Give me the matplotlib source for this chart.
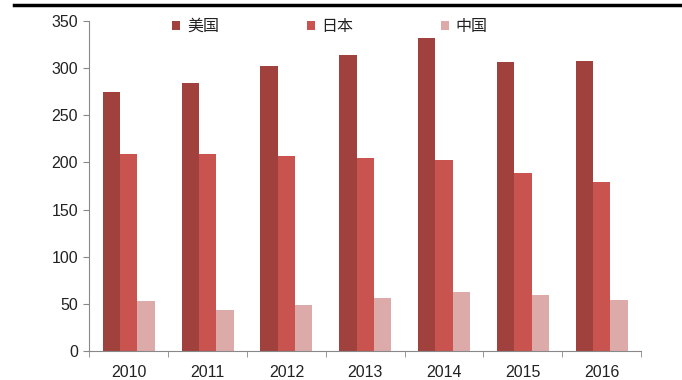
import matplotlib.pyplot as plt
import numpy as np
from matplotlib.lines import Line2D

plt.rcParams['font.family'] = ['Liberation Sans', 'Noto Sans CJK SC']
plt.rcParams['text.color'] = '#222222'
plt.rcParams['xtick.labelcolor'] = '#222222'
plt.rcParams['ytick.labelcolor'] = '#222222'

years = ['2010', '2011', '2012', '2013', '2014', '2015', '2016']
usa = [275, 284, 302, 314, 332, 306, 307]
japan = [209, 209, 207, 205, 203, 189, 179]
china = [53, 44, 49, 56, 63, 60, 54]
series_names = ['美国', '日本', '中国']
colors = ['#a0413d', '#c8534f', '#dcaaa9']

fig = plt.figure(figsize=(6.82, 3.80), dpi=100)
ax = fig.add_axes([0.131, 0.076, 0.809, 0.869])

x = np.arange(len(years))
w = 0.22
for i, (vals, name, c) in enumerate(zip([usa, japan, china], series_names, colors)):
    ax.bar(x + (i - 1) * w, vals, w, color=c, label=name)

ax.set_xlim(-0.5, len(years) - 0.5)
ax.set_ylim(0, 350)
ax.set_yticks(range(0, 351, 50))
ax.set_xticks(x)
ax.set_xticklabels(years)
ax.set_xticks(np.arange(-0.5, len(years), 1), minor=True)
ax.tick_params(axis='x', which='major', length=0, pad=10, labelsize=11.5)
ax.tick_params(axis='x', which='minor', length=4, color='#888888')
ax.tick_params(axis='y', length=4, color='#888888', labelsize=11.5, pad=4)
for s in ['top', 'right']:
    ax.spines[s].set_visible(False)
for s in ['left', 'bottom']:
    ax.spines[s].set_color('#888888')

ax.legend(loc='upper center', bbox_to_anchor=(0.436, 1.05), ncol=3, frameon=False,
          fontsize=11.5, handlelength=0.5, handleheight=0.5, handletextpad=0.4,
          columnspacing=5.5)

fig.add_artist(Line2D([0.02, 1.0], [0.986, 0.986], color='black', lw=2.5))

fig.savefig('out.png', dpi=100)
